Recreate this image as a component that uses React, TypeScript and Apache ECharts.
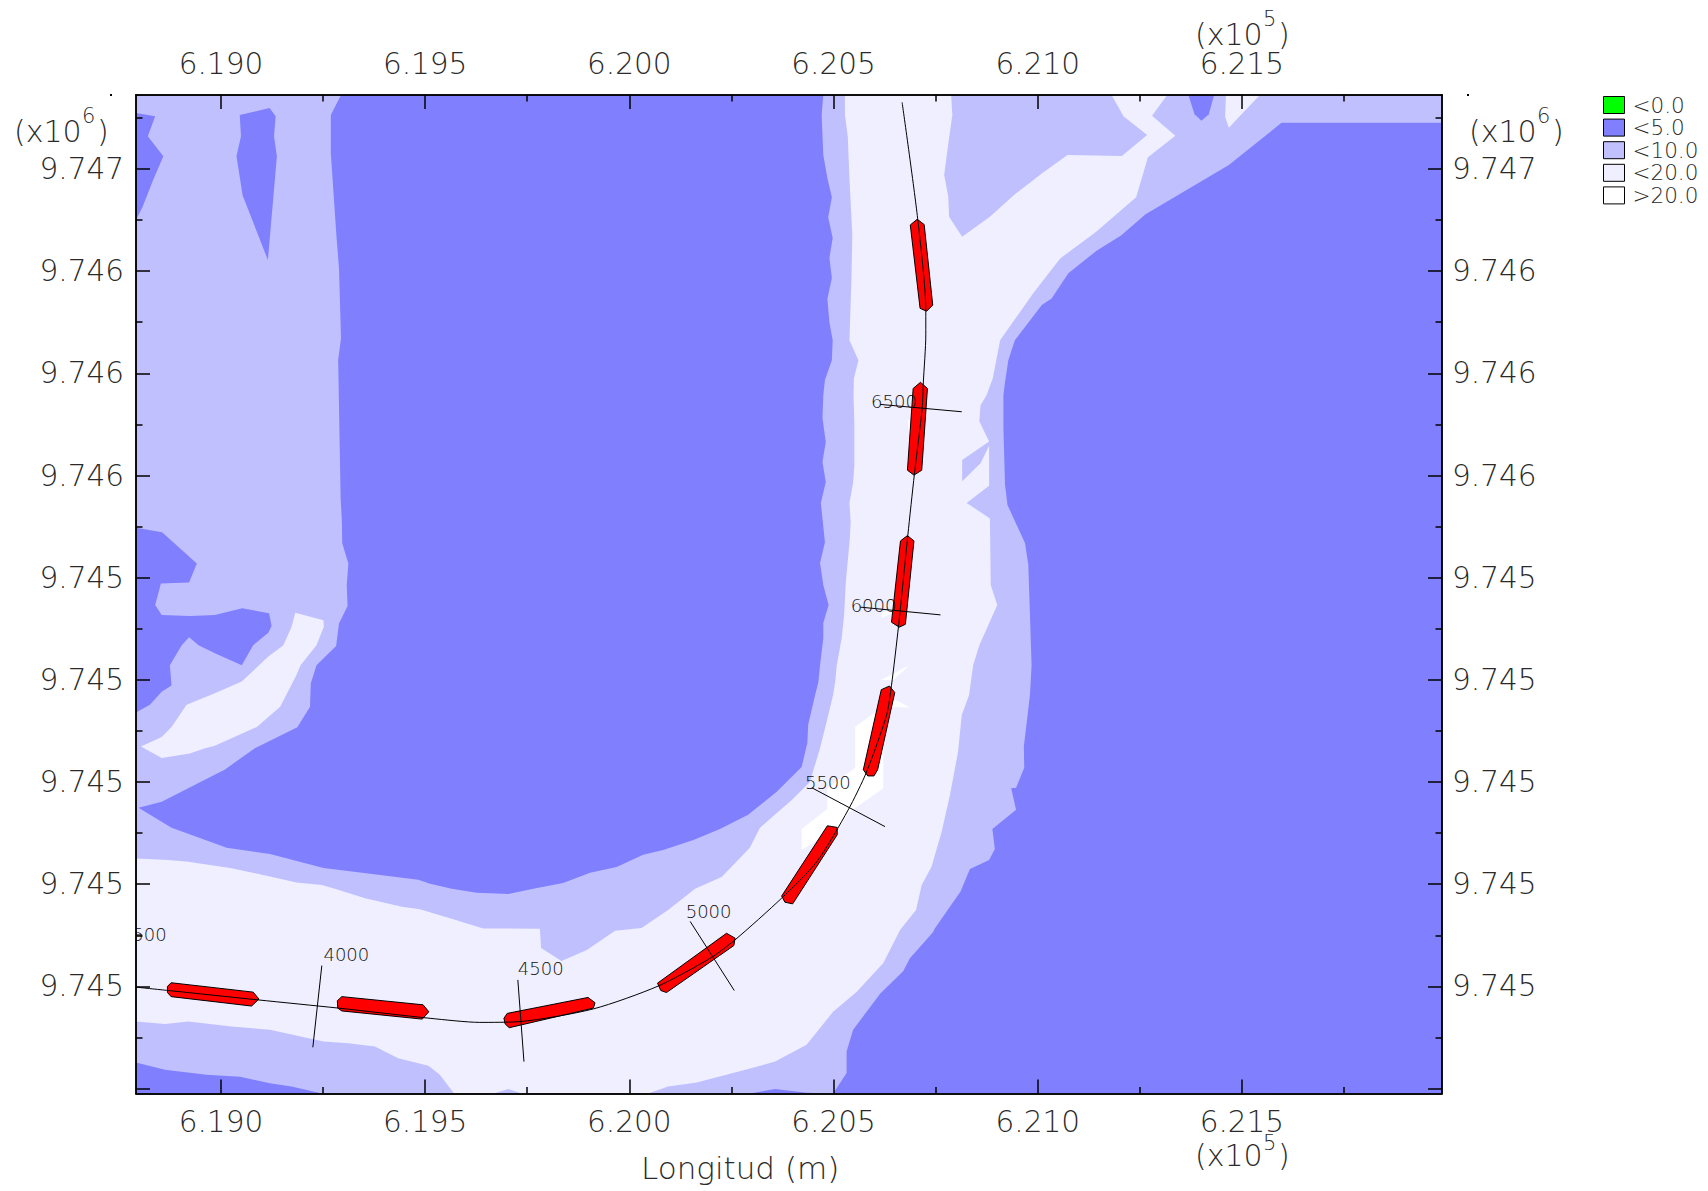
import React, { useEffect, useRef } from "react";
import * as echarts from "echarts";

type P = number[];

// Axis extents (metres)
const xMin = 618792, xMax = 621990, yMin = 9744738, yMax = 9747181;

// Ticks
const xMajorTicks = [619000, 619500, 620000, 620500, 621000, 621500];
const xMinorTicks = [619250, 619750, 620250, 620750, 621250, 621750];
const xTickLabels = ["6.190", "6.195", "6.200", "6.205", "6.210", "6.215"];
const yMajorTicks = [9747000, 9746750, 9746500, 9746250, 9746000, 9745750, 9745500, 9745250, 9745000, 9744750];
const yMinorTicks = [9747125, 9746875, 9746625, 9746375, 9746125, 9745875, 9745625, 9745375, 9745125, 9744875];
const yTickLabels = ["9.747", "9.746", "9.746", "9.746", "9.745", "9.745", "9.745", "9.745", "9.745", ""];

// Depth contours (easting, northing)
const plotFull: P[] = [[xMin, yMax], [xMax, yMax], [xMax, yMin], [xMin, yMin]];

const mainShallow: P[] = [[xMin, yMax], [620528, yMax], [620528, 9747132], [620535, 9747078], [620539, 9746978], [620546, 9746838], [620544, 9746733], [620539, 9746581], [620561, 9746532], [620550, 9746488], [620549, 9746447], [620551, 9746381], [620551, 9746276], [620548, 9746232], [620539, 9746183], [620542, 9746136], [620540, 9746097], [620530, 9745987], [620526, 9745909], [620520, 9745852], [620508, 9745786], [620504, 9745745], [620499, 9745713], [620483, 9745647], [620467, 9745583], [620442, 9745500], [620398, 9745456], [620361, 9745424], [620320, 9745388], [620295, 9745339], [620271, 9745314], [620226, 9745268], [620161, 9745239], [620095, 9745187], [620030, 9745143], [619965, 9745136], [619896, 9745089], [619834, 9745062], [619784, 9745094], [619781, 9745141], [619642, 9745142], [619573, 9745163], [619487, 9745189], [619443, 9745195], [619353, 9745216], [619283, 9745238], [619247, 9745248], [619185, 9745254], [619120, 9745269], [619026, 9745289], [618920, 9745305], [618871, 9745309], [xMin, 9745313]];

const northShallow: P[] = [[620788, yMax], [620791, 9747132], [620781, 9747062], [620771, 9746985], [620781, 9746932], [620783, 9746883], [620815, 9746834], [620883, 9746883], [620944, 9746938], [621010, 9746989], [621073, 9747034], [621206, 9747032], [621268, 9747083], [621210, 9747129], [621181, yMax]];

const eastShallow: P[] = [[xMax, yMax], [621317, yMax], [621280, 9747130], [621337, 9747081], [621270, 9747029], [621241, 9746931], [621144, 9746847], [621055, 9746781], [620989, 9746696], [620908, 9746581], [620890, 9746488], [620875, 9746447], [620860, 9746422], [620857, 9746383], [620881, 9746333], [620815, 9746288], [620815, 9746236], [620860, 9746280], [620881, 9746323], [620881, 9746225], [620826, 9746183], [620883, 9746145], [620885, 9745982], [620901, 9745933], [620857, 9745835], [620842, 9745786], [620832, 9745713], [620814, 9745664], [620805, 9745574], [620785, 9745468], [620765, 9745379], [620740, 9745293], [620716, 9745248], [620702, 9745187], [620663, 9745138], [620622, 9745057], [620557, 9744987], [620499, 9744938], [620434, 9744857], [620357, 9744816], [620291, 9744798], [620165, 9744765], [620095, 9744755], [620046, yMin], [xMax, yMin]];

const southShallow: P[] = [[xMin, 9744914], [618863, 9744908], [618920, 9744914], [619026, 9744902], [619120, 9744894], [619251, 9744865], [619312, 9744861], [619377, 9744853], [619434, 9744824], [619508, 9744806], [619536, 9744784], [619571, yMin], [xMin, yMin]];

const southBump: P[] = [[619667, yMin], [619704, 9744749], [619736, yMin]];

const centreDeep: P[] = [[619294, yMax], [620475, yMax], [620471, 9747132], [620475, 9747034], [620485, 9746978], [620496, 9746931], [620487, 9746882], [620498, 9746831], [620490, 9746782], [620496, 9746733], [620485, 9746682], [620490, 9746625], [620498, 9746581], [620496, 9746532], [620479, 9746484], [620475, 9746447], [620473, 9746391], [620481, 9746332], [620473, 9746283], [620481, 9746234], [620469, 9746183], [620479, 9746087], [620467, 9746036], [620475, 9745982], [620488, 9745933], [620475, 9745889], [620475, 9745852], [620467, 9745786], [620463, 9745745], [620455, 9745713], [620438, 9745640], [620436, 9745596], [620422, 9745537], [620361, 9745476], [620291, 9745420], [620222, 9745385], [620157, 9745358], [620083, 9745334], [620034, 9745322], [619969, 9745292], [619904, 9745278], [619838, 9745253], [619765, 9745239], [619704, 9745226], [619626, 9745229], [619565, 9745239], [619512, 9745251], [619483, 9745261], [619385, 9745273], [619251, 9745290], [619120, 9745324], [619014, 9745339], [618879, 9745388], [618798, 9745437], [618855, 9745452], [618928, 9745489], [619010, 9745531], [619083, 9745583], [619187, 9745634], [619218, 9745684], [619220, 9745742], [619234, 9745786], [619282, 9745833], [619289, 9745888], [619310, 9745931], [619308, 9745982], [619312, 9746035], [619297, 9746084], [619296, 9746141], [619293, 9746196], [619287, 9746533], [619294, 9746585], [619289, 9746758], [619283, 9746833], [619269, 9747039], [619269, 9747132]];

const eastDeep: P[] = [[xMax, 9747113], [621597, 9747113], [621468, 9747010], [621264, 9746889], [621204, 9746837], [621144, 9746800], [621075, 9746745], [621034, 9746683], [621010, 9746667], [620944, 9746581], [620928, 9746532], [620920, 9746479], [620916, 9746447], [620916, 9746366], [620920, 9746227], [620926, 9746178], [620969, 9746084], [620977, 9746031], [620985, 9745786], [620981, 9745713], [620966, 9745587], [620967, 9745535], [620947, 9745486], [620935, 9745485], [620947, 9745432], [620889, 9745385], [620895, 9745336], [620881, 9745309], [620834, 9745287], [620811, 9745232], [620748, 9745142], [620744, 9745133], [620687, 9745069], [620671, 9745038], [620614, 9744982], [620548, 9744894], [620532, 9744841], [620532, 9744788], [620499, yMin], [620434, 9744740], [620357, 9744749], [620295, yMin], [xMax, yMin]];

const topRightDeep: P[] = [[621369, yMax], [621384, 9747134], [621401, 9747118], [621419, 9747134], [621432, yMax]];
const topLeftDeep: P[] = [[xMin, 9747137], [618839, 9747129], [618821, 9747080], [618859, 9747031], [618834, 9746973], [618808, 9746907], [xMin, 9746875]];
const northWestDeep: P[] = [[619046, 9747132], [619119, 9747149], [619134, 9747129], [619130, 9747080], [619137, 9747031], [619115, 9746777], [619053, 9746936], [619038, 9747031], [619049, 9747080]];
const westDeep: P[] = [[xMin, 9746122], [618856, 9746111], [618941, 9746035], [618922, 9745988], [618853, 9745986], [618839, 9745933], [618855, 9745909], [618924, 9745906], [618985, 9745909], [619052, 9745925], [619118, 9745913], [619124, 9745882], [619116, 9745865], [619079, 9745835], [619051, 9745786], [618985, 9745815], [618945, 9745835], [618922, 9745854], [618904, 9745835], [618875, 9745786], [618879, 9745736], [618855, 9745721], [618826, 9745689], [xMin, 9745670]];
const southWestDeep: P[] = [[xMin, 9744814], [618863, 9744796], [618965, 9744784], [619047, 9744779], [619120, 9744763], [619173, 9744755], [619247, yMin], [xMin, yMin]];

const westIsland: P[] = [[618804, 9745587], [618855, 9745610], [618879, 9745635], [618916, 9745689], [618985, 9745717], [619051, 9745746], [619116, 9745807], [619153, 9745835], [619173, 9745880], [619182, 9745914], [619251, 9745896], [619252, 9745880], [619234, 9745835], [619195, 9745786], [619185, 9745762], [619145, 9745684], [619088, 9745635], [619026, 9745607], [618985, 9745589], [618961, 9745583], [618924, 9745570], [618855, 9745559]];
const topNotch: P[] = [[621461, yMax], [621459, 9747128], [621468, 9747101], [621544, yMax]];

const bar1: P[] = [[620422, 9745385], [620485, 9745434], [620485, 9745485], [620553, 9745535], [620553, 9745635], [620614, 9745680], [620638, 9745709], [620687, 9745682], [620646, 9745684], [620622, 9745615], [620622, 9745485], [620536, 9745424], [620512, 9745387], [620422, 9745334]];
const bar2: P[] = [[620616, 9745750], [620686, 9745786], [620646, 9745750]];
const bar3: P[] = [[620618, 9745913], [620646, 9745925], [620642, 9745913], [620618, 9745901]];
const bar4: P[] = [[620682, 9746386], [620686, 9746337], [620687, 9746386]];

// Channel axis
const channelAxis: P[] = [[620668, 9747163], [620706, 9746879], [620726, 9746652], [620726, 9746594], [620720, 9746479], [620717, 9746414], [620698, 9746253], [620682, 9746104], [620659, 9745880], [620642, 9745737], [620630, 9745664], [620581, 9745525], [620536, 9745432], [620459, 9745305], [620373, 9745216], [620259, 9745114], [620198, 9745069], [620071, 9745001], [619912, 9744945], [619732, 9744914], [619634, 9744912], [619512, 9744922], [619287, 9744947], [619091, 9744967], [618871, 9744990], [618794, 9744998]];

// Vessel positions
const vessel1: P[] = [[618878, 9745009], [618869, 9745000], [618869, 9744985], [618878, 9744975], [619075, 9744952], [619093, 9744969], [619079, 9744986]];
const vessel2: P[] = [[619296, 9744975], [619285, 9744965], [619286, 9744947], [619296, 9744940], [619493, 9744920], [619509, 9744938], [619495, 9744955]];
const vessel3: P[] = [[619701, 9744934], [619693, 9744922], [619696, 9744908], [619706, 9744899], [619912, 9744947], [619916, 9744960], [619899, 9744973]];
const vessel4: P[] = [[620069, 9745008], [620077, 9744990], [620091, 9744985], [620256, 9745100], [620259, 9745118], [620238, 9745130]];
const vessel5: P[] = [[620373, 9745221], [620381, 9745206], [620400, 9745202], [620509, 9745371], [620509, 9745389], [620485, 9745393]];
const vessel6: P[] = [[620617, 9745726], [620637, 9745735], [620650, 9745719], [620608, 9745530], [620599, 9745515], [620584, 9745515], [620573, 9745530]];
const vessel7: P[] = [[620664, 9746090], [620681, 9746103], [620697, 9746090], [620676, 9745886], [620661, 9745879], [620642, 9745891]];
const vessel8: P[] = [[620695, 9746463], [620713, 9746478], [620730, 9746463], [620716, 9746263], [620697, 9746251], [620681, 9746263]];
const vessel9: P[] = [[620688, 9746863], [620705, 9746877], [620722, 9746864], [620743, 9746667], [620728, 9746652], [620712, 9746659]];

// Chainage sections: name, label anchor, line ends
const sectionNames = ["3500", "4000", "4500", "5000", "5500", "6000", "6500"];
const sectionLabelAt: P[] = [[618755, 9745128], [619251, 9745077], [619727, 9745043], [620138, 9745183], [620430, 9745500], [620542, 9745933], [620592, 9746430]];
const sectionStart: P[] = [[618792, 9745126], [619247, 9745051], [619727, 9745016], [620149, 9745159], [620447, 9745486], [620565, 9745928], [620614, 9746424]];
const sectionEnd: P[] = [[618807, 9745126], [619225, 9744851], [619742, 9744816], [620257, 9744990], [620626, 9745391], [620762, 9745909], [620814, 9746406]];

// Legend
const legendNames = ["<0.0", "<5.0", "<10.0", "<20.0", ">20.0"];
const legendColors = ["#00FF00", "#8080FF", "#C0C0FF", "#EFEFFF", "#FFFFFF"];

const FONT = '"DejaVu Sans"';
const TEXT = "#2a2a2a";

function polySeries(name: string, color: string, polys: P[][], z: number, stroke?: string) {
  return {
    type: "custom",
    name,
    coordinateSystem: "cartesian2d",
    clip: true,
    silent: true,
    z,
    itemStyle: { color },
    data: polys.map((p) => p[0]),
    renderItem: (params: any, api: any) => ({
      type: "polygon",
      shape: { points: polys[params.dataIndex].map((q) => api.coord(q)) },
      style: { fill: color, stroke: stroke || null, lineWidth: stroke ? 1 : 0 },
    }),
  };
}

function xAxisOf(position: string, ticks: number[], len: number, labels: boolean, margin: number) {
  return {
    type: "value",
    position,
    z: 10,
    min: xMin,
    max: xMax,
    splitLine: { show: false },
    axisLine: { show: true, onZero: false, lineStyle: { color: "#000", width: 1.5 } },
    axisTick: { show: true, inside: true, length: len, customValues: ticks, lineStyle: { color: "#000", width: 1.5 } },
    axisLabel: {
      show: labels,
      margin,
      customValues: ticks,
      fontFamily: FONT,
      fontWeight: 200,
      fontSize: 29.5,
      lineHeight: 26,
      color: TEXT,
      formatter: (v: number) => xTickLabels[xMajorTicks.indexOf(v)] ?? "",
    },
  };
}

function yAxisOf(position: string, ticks: number[], len: number, labels: boolean, margin: number) {
  return {
    type: "value",
    position,
    z: 10,
    min: yMin,
    max: yMax,
    splitLine: { show: false },
    axisLine: { show: true, onZero: false, lineStyle: { color: "#000", width: 1.5 } },
    axisTick: { show: true, inside: true, length: len, customValues: ticks, lineStyle: { color: "#000", width: 1.5 } },
    axisLabel: {
      show: labels,
      margin,
      customValues: ticks,
      fontFamily: FONT,
      fontWeight: 200,
      fontSize: 29.5,
      color: TEXT,
      formatter: (v: number) => yTickLabels[yMajorTicks.indexOf(v)] ?? "",
    },
  };
}

function exponentText(left: number, parenY: number, supY: number, exp: string) {
  const base = { fontFamily: FONT, fontWeight: 200, fontSize: 30, lineHeight: 26, fill: TEXT };
  return [
    { type: "text", x: left, y: parenY, style: { ...base, text: "(x10" } },
    { type: "text", x: left + 68, y: supY, style: { ...base, fontSize: 21, lineHeight: 18, text: exp } },
    { type: "text", x: left + 83, y: parenY, style: { ...base, text: ")" } },
  ];
}

export default function App() {
  const ref = useRef<HTMLDivElement>(null);
  useEffect(() => {
    const chart = echarts.init(ref.current!, undefined, { renderer: "svg" });
    chart.setOption({
      animation: false,
      backgroundColor: "#fff",
      grid: { left: 136, top: 95, width: 1306, height: 998.5, containLabel: false },
      legend: {
        orient: "vertical",
        left: 1603,
        top: 94,
        itemWidth: 21,
        itemHeight: 17,
        itemGap: 0.6,
        padding: 0,
        selectedMode: false,
        data: legendNames.map((name, i) => ({
          name,
          icon: "rect",
          itemStyle: { color: legendColors[i], borderColor: "#000", borderWidth: 1 },
        })),
        textStyle: { fontFamily: FONT, fontWeight: 200, fontSize: 21.5, color: TEXT, padding: [0, 0, 0, 3] },
      },
      xAxis: [
        xAxisOf("bottom", xMajorTicks, 14, true, 15),
        xAxisOf("top", xMajorTicks, 14, true, 18),
        xAxisOf("bottom", xMinorTicks, 6.5, false, 0),
        xAxisOf("top", xMinorTicks, 6.5, false, 0),
      ],
      yAxis: [
        yAxisOf("left", yMajorTicks, 14, true, 12),
        yAxisOf("right", yMajorTicks, 14, true, 10),
        yAxisOf("left", yMinorTicks, 6.5, false, 0),
        yAxisOf("right", yMinorTicks, 6.5, false, 0),
      ],
      series: [
        polySeries("<0.0", "#00FF00", [], 1),
        polySeries("<20.0", "#EFEFFF", [plotFull], 1),
        polySeries("<10.0", "#C0C0FF", [mainShallow, northShallow, eastShallow, southShallow, southBump], 1.1),
        polySeries("<20.0", "#EFEFFF", [westIsland, topNotch], 1.2),
        polySeries("<5.0", "#8080FF", [centreDeep, eastDeep, topRightDeep, topLeftDeep, northWestDeep, westDeep, southWestDeep], 1.3),
        polySeries(">20.0", "#FFFFFF", [bar1, bar2, bar3, bar4], 1.4),
        polySeries("vessels", "#FF0000", [vessel1, vessel2, vessel3, vessel4, vessel5, vessel6, vessel7, vessel8, vessel9], 1.5, "#000"),
        {
          type: "line",
          name: "channel",
          z: 1.6,
          silent: true,
          showSymbol: false,
          smooth: 0.25,
          lineStyle: { color: "#000", width: 1 },
          data: channelAxis,
        },
        {
          type: "custom",
          name: "sections",
          coordinateSystem: "cartesian2d",
          clip: true,
          silent: true,
          z: 1.7,
          data: sectionLabelAt,
          renderItem: (params: any, api: any) => {
            const i = params.dataIndex;
            const a = api.coord(sectionStart[i]);
            const b = api.coord(sectionEnd[i]);
            const t = api.coord(sectionLabelAt[i]);
            return {
              type: "group",
              children: [
                { type: "line", shape: { x1: a[0], y1: a[1], x2: b[0], y2: b[1] }, style: { stroke: "#000", lineWidth: 1 } },
                {
                  type: "text",
                  x: t[0],
                  y: t[1],
                  style: { text: sectionNames[i], fill: "#111", fontFamily: FONT, fontWeight: 200, fontSize: 18, align: "left", verticalAlign: "middle" },
                },
              ],
            };
          },
        },
      ],
      graphic: [
        ...exponentText(1195, 21, 10, "5"),
        ...exponentText(1195, 1142, 1134, "5"),
        ...exponentText(14, 118, 107, "6"),
        ...exponentText(1469, 118, 107, "6"),
        { type: "text", x: 641, y: 1152, style: { text: "Longitud (m)", fontFamily: FONT, fontWeight: 200, fontSize: 31, fill: TEXT } },
        { type: "rect", shape: { x: 110, y: 94, width: 2, height: 2 }, style: { fill: "#000" } },
        { type: "rect", shape: { x: 1467, y: 94, width: 2, height: 2 }, style: { fill: "#000" } },
      ],
    });
    return () => chart.dispose();
  }, []);
  return <div ref={ref} style={{ position: "fixed", left: 0, top: 0, width: 1708, height: 1191 }} />;
}
